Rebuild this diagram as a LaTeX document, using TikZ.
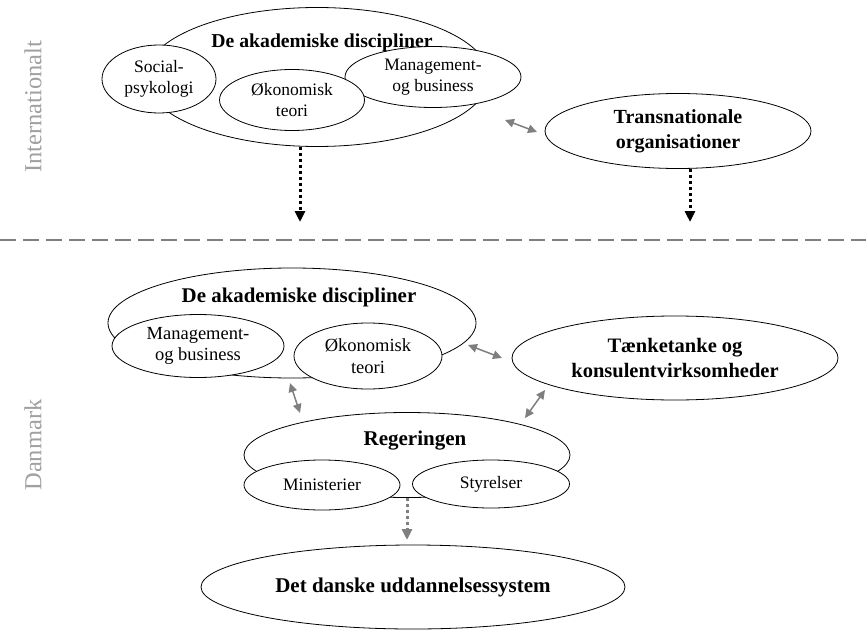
\documentclass[tikz,border=0pt]{standalone}
\usepackage{fontspec}
\setmainfont{Liberation Serif}
\usepackage{tikz}
\usetikzlibrary{arrows.meta, positioning, calc, shapes.geometric}
\definecolor{linkgray}{HTML}{7F7F7F}
\definecolor{sidegray}{HTML}{A0A0A0}

\begin{document}
\begin{tikzpicture}[x=1pt, y=-1pt,
  field/.style={draw, line width=0.8pt, fill=white, ellipse, inner sep=0pt, align=center,
                font=\fontsize{17.5}{21}\selectfont},
  actor/.style={draw, line width=0.8pt, fill=white, ellipse, inner sep=0pt, align=center,
                font=\bfseries\fontsize{20.5}{25}\selectfont},
  heading/.style={inner sep=0pt, font=\bfseries\fontsize{20.5}{25}\selectfont},
  level/.style={rotate=90, text=sidegray, font=\fontsize{24.5}{28}\selectfont},
  mutual/.style={draw=linkgray, line width=1.5pt,
                 {Triangle[width=8.5pt,length=9pt]}-{Triangle[width=8.5pt,length=9pt]}},
  impact/.style={line width=3pt, dash pattern=on 3pt off 3pt,
                 -{Triangle[width=10pt,length=11pt]}},
  divider/.style={draw=linkgray, line width=1.8pt, dash pattern=on 16pt off 7pt},
]
  \useasboundingbox (0,0) rectangle (866,631);

  % Internationalt
  \node[level] (intl) at (33,107) {Internationalt};
  \node[field, minimum width=344pt, minimum height=139pt] (akadInt) at (317,77) {};
  \node[field, minimum width=114pt, minimum height=68pt] (socInt) at (159,79) {Social-\\psykologi};
  \node[field, minimum width=176pt, minimum height=61pt] (mgmtInt) at (433,77) {Management-\\og business};
  \node[field, minimum width=145pt, minimum height=61pt] (econInt) at (292,100) {Økonomisk\\teori};
  \node[heading, font=\bfseries\fontsize{19.7}{24}\selectfont] (akadIntTitle) at (322,43) {De akademiske discipliner};
  \node[actor, font=\bfseries\fontsize{20}{25}\selectfont, minimum width=266pt, minimum height=75pt] (trans) at (678,131) {Transnationale\\organisationer};

  % Free ends of the international connectors
  \coordinate (intMutA) at (505,120);
  \coordinate (intMutB) at (537,132);
  \coordinate (intDownA) at (300,222);
  \coordinate (intDownB) at (690,222);

  \draw[mutual] (intMutA) -- (intMutB);
  \draw[impact] ([xshift=-17pt]akadInt.south) -- (intDownA);
  \draw[impact] ([xshift=12pt]trans.south) -- (intDownB);

  % Divider between the two levels
  \draw[divider] (0,240) -- (866,240);

  % Danmark
  \node[level] (dk) at (33,445) {Danmark};
  \node[field, minimum width=368pt, minimum height=110pt] (akadDk) at (292,323) {};
  \node[heading, font=\bfseries\fontsize{20.9}{25}\selectfont] (akadDkTitle) at (299,297) {De akademiske discipliner};
  \node[field, font=\fontsize{18.5}{21}\selectfont, minimum width=172pt, minimum height=63pt] (mgmtDk) at (198,346) {Management-\\og business};
  \node[field, font=\fontsize{18.5}{22}\selectfont, minimum width=148pt, minimum height=66pt] (econDk) at (368,356) {Økonomisk\\teori};
  \node[actor, minimum width=326pt, minimum height=84pt] (think) at (675,358) {Tænketanke og\\konsulentvirksomheder};

  % Regeringen
  \node[field, minimum width=326pt, minimum height=85pt] (gov) at (407,455) {};
  \node[heading, font=\bfseries\fontsize{21}{25}\selectfont] (govTitle) at (415,441) {Regeringen};
  \node[field, minimum width=156pt, minimum height=50pt] (min) at (322,485) {Ministerier};
  \node[field, minimum width=157pt, minimum height=48pt] (styr) at (491,484) {Styrelser};

  % Det danske uddannelsessystem
  \node[actor, font=\bfseries\fontsize{21}{25}\selectfont, minimum width=424pt, minimum height=84pt] (edu) at (413,587) {Det danske uddannelsessystem};

  % Free ends of the Danish connectors
  \coordinate (akThA) at (468,345);
  \coordinate (akThB) at (502,358);
  \coordinate (akGovA) at (290,383);
  \coordinate (akGovB) at (300,413);
  \coordinate (thGovA) at (545,390);
  \coordinate (thGovB) at (525,418);
  \coordinate (govDown) at (407,540);

  \draw[mutual] (akThA) -- (akThB);
  \draw[mutual] (akGovA) -- (akGovB);
  \draw[mutual] (thGovA) -- (thGovB);
  \draw[impact, draw=linkgray, fill=linkgray] (gov.south) -- (govDown);
\end{tikzpicture}
\end{document}
